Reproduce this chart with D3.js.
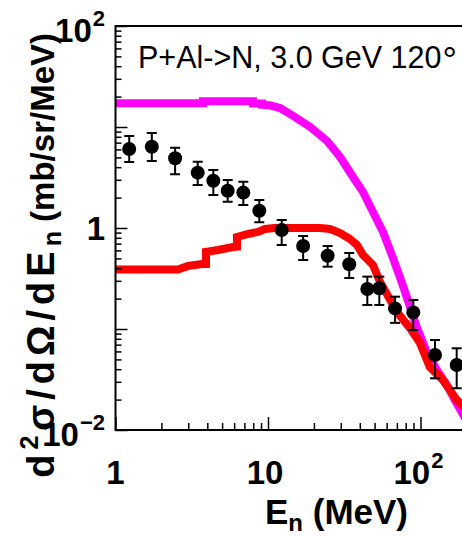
<!DOCTYPE html>
<html><head><meta charset="utf-8">
<script src="https://cdn.jsdelivr.net/npm/d3@7"></script>
<style>
html,body{margin:0;padding:0;background:#fff;}
svg{display:block;font-family:"Liberation Sans",Arial,Helvetica,sans-serif;}
</style>
</head><body><div id="chart"></div>
<script>
// ---- data ----
const magentaX = [1, 3.75, 3.75, 7.97, 7.97, 9.13, 9.13, 10.3, 12.0, 14.6, 18.9, 24.4, 29.7, 36.1, 42.0, 48.8, 56.8, 66.0, 76.8, 94.9, 110, 128, 149, 168, 196];
const magentaY = [17.2, 17.2, 18.0, 18.0, 17.1, 17.1, 16.6, 16.4, 15.4, 12.9, 10.0, 7.27, 5.05, 3.20, 2.27, 1.44, 0.913, 0.505, 0.267, 0.102, 0.0592, 0.0393, 0.0279, 0.0198, 0.0131];

const redX = [1, 2.57, 2.99, 3.69, 3.92, 3.92, 4.70, 5.90, 6.26, 6.26, 7.39, 8.60, 9.55, 11.1, 21.9, 25.5, 29.7, 34.5, 38.3, 42.0, 48.8, 54.3, 70.2, 85.3, 99.2, 115, 140, 173, 211];
const redY = [0.388, 0.388, 0.421, 0.440, 0.440, 0.579, 0.606, 0.649, 0.655, 0.815, 0.873, 0.913, 0.977, 1.0, 1.0, 0.977, 0.892, 0.778, 0.679, 0.540, 0.430, 0.292, 0.147, 0.102, 0.0727, 0.0421, 0.0313, 0.0198, 0.0151];

const dataX  = [1.23, 1.73, 2.46, 3.46, 4.38, 5.44, 6.89, 8.77, 12.3, 17.0, 24.6, 34.1, 44.8, 53.7, 68.1, 89.7, 124.5, 172.7];
const dataY  = [6.06, 6.38, 4.90, 3.53, 2.94, 2.34, 2.24, 1.48, 0.955, 0.664, 0.532, 0.437, 0.249, 0.253, 0.160, 0.146, 0.0553, 0.0440];
const dataHi = [8.15, 8.72, 6.24, 4.53, 3.75, 2.99, 2.87, 1.89, 1.20, 0.833, 0.664, 0.566, 0.330, 0.330, 0.209, 0.194, 0.0778, 0.0644];
const dataLo = [4.50, 4.61, 3.40, 2.67, 2.12, 1.82, 1.69, 1.14, 0.679, 0.482, 0.414, 0.320, 0.173, 0.173, 0.115, 0.0977, 0.0325, 0.0259];

const xMajor = [1, 10, 100];
const xMinor = [2,3,4,5,6,7,8,9,20,30,40,50,60,70,80,90,200];
const yMajor = [0.01, 0.1, 1, 10, 100];
const yMinor = [0.02,0.03,0.04,0.05,0.06,0.07,0.08,0.09,0.2,0.3,0.4,0.5,0.6,0.7,0.8,0.9,2,3,4,5,6,7,8,9,20,30,40,50,60,70,80,90];
const xLabelValues = [1, 10, 100];
const xLabelBase = ["1", "10", "10"];
const xLabelExp  = ["", "", "2"];
const yLabelValues = [100, 1, 0.01];
const yLabelBase = ["10", "1", "10"];
const yLabelExp  = ["2", "", "\u22122"];
const annotationMain = "P+Al->N, 3.0 GeV 120";
const annotationDeg = "\u00B0";

// ---- layout ----
const W = 462, H = 536;
const svg = d3.select("#chart").append("svg").attr("width", W).attr("height", H);
const x = d3.scaleLog().domain([1, 250]).range([115.5, 115.5 + 152.5 * Math.log10(250)]);
const y = d3.scaleLog().domain([0.01, 100]).range([430, 26]);
const x0 = x.range()[0], x1 = x.range()[1], yT = y.range()[1], yB = y.range()[0];

svg.append("defs").append("clipPath").attr("id", "clip")
  .append("rect").attr("x", x0).attr("y", yT).attr("width", x1 - x0).attr("height", yB - yT);

const plot = svg.append("g").attr("clip-path", "url(#clip)");
const line = d3.line().x(d => x(d[0])).y(d => y(d[1]));

plot.append("path").datum(magentaX.map((v, i) => [v, magentaY[i]]))
  .attr("d", line).attr("fill", "none").attr("stroke", "#ff00ff")
  .attr("stroke-width", 8).attr("stroke-linejoin", "miter");
plot.append("path").datum(redX.map((v, i) => [v, redY[i]]))
  .attr("d", line).attr("fill", "none").attr("stroke", "#ff0000")
  .attr("stroke-width", 8).attr("stroke-linejoin", "miter");

const pts = dataX.map((v, i) => ({x: v, y: dataY[i], lo: dataLo[i], hi: dataHi[i]}));
const eb = plot.append("g").attr("stroke", "#000").attr("stroke-width", 2);
eb.selectAll("line.v").data(pts).join("line").attr("class", "v")
  .attr("x1", d => x(d.x)).attr("x2", d => x(d.x)).attr("y1", d => y(d.lo)).attr("y2", d => y(d.hi));
eb.selectAll("line.t").data(pts).join("line").attr("class", "t")
  .attr("x1", d => x(d.x) - 5).attr("x2", d => x(d.x) + 5).attr("y1", d => y(d.hi)).attr("y2", d => y(d.hi));
eb.selectAll("line.b").data(pts).join("line").attr("class", "b")
  .attr("x1", d => x(d.x) - 5).attr("x2", d => x(d.x) + 5).attr("y1", d => y(d.lo)).attr("y2", d => y(d.lo));
plot.append("g").selectAll("circle").data(pts).join("circle")
  .attr("cx", d => x(d.x)).attr("cy", d => y(d.y)).attr("r", 7).attr("fill", "#000");

// ---- axes ----
function styleAxis(g) {
  g.select(".domain").remove();
  g.selectAll(".tick line").attr("stroke", "#000").attr("stroke-width", 1.5);
  g.selectAll(".tick text").remove();
}
svg.append("g").attr("transform", `translate(${x0},0)`)
  .call(d3.axisLeft(y).tickValues(yMajor).tickSize(-12).tickFormat(() => "")).call(styleAxis);
svg.append("g").attr("transform", `translate(${x0},0)`)
  .call(d3.axisLeft(y).tickValues(yMinor).tickSize(-6).tickFormat(() => "")).call(styleAxis);
svg.append("g").attr("transform", `translate(0,${yB})`)
  .call(d3.axisBottom(x).tickValues(xMajor).tickSize(-13).tickFormat(() => "")).call(styleAxis);
svg.append("g").attr("transform", `translate(0,${yB})`)
  .call(d3.axisBottom(x).tickValues(xMinor).tickSize(-7).tickFormat(() => "")).call(styleAxis);

svg.append("rect").attr("x", x0).attr("y", yT).attr("width", x1 - x0).attr("height", yB - yT)
  .attr("fill", "none").attr("stroke", "#000").attr("stroke-width", 2);

// ---- tick labels ----
function label(g, base, exp, px, py, anchor) {
  const t = g.append("text").attr("x", px).attr("y", py).attr("text-anchor", anchor)
    .attr("font-size", 33).attr("font-weight", "bold").attr("fill", "#000");
  t.append("tspan").text(base);
  if (exp) t.append("tspan").attr("font-size", 22).attr("dx", 1).attr("dy", -16).text(exp);
  return t;
}
const lab = svg.append("g");
yLabelValues.forEach((v, i) => {
  const off = yLabelExp[i] ? 16 : 12;
  label(lab, yLabelBase[i], yLabelExp[i], 105, y(v) + off, "end");
});
xLabelValues.forEach((v, i) => {
  label(lab, xLabelBase[i], xLabelExp[i], x(v) - (i === 1 ? 3 : (i === 2 ? 2 : 0)), 484, "middle");
});

// ---- titles ----
const xt = svg.append("text").attr("x", 408).attr("y", 524).attr("text-anchor", "end")
  .attr("font-size", 35).attr("font-weight", "bold").attr("fill", "#000");
xt.append("tspan").text("E");
xt.append("tspan").attr("font-size", 24).attr("dy", 7).text("n");
xt.append("tspan").attr("dy", -7).text(" (MeV)");

const yt = svg.append("text").attr("transform", "translate(54,33) rotate(-90)").attr("text-anchor", "end")
  .attr("font-size", 33).attr("font-weight", "bold").attr("fill", "#000");
yt.append("tspan").attr("font-size", 38).attr("letter-spacing", 5).text("d");
yt.append("tspan").attr("font-size", 25).attr("dy", -16).attr("letter-spacing", 5).text("2");
yt.append("tspan").attr("font-size", 38).attr("dy", 16).attr("letter-spacing", 5).text("\u03C3/d\u03A9/dE");
yt.append("tspan").attr("font-size", 25).attr("dy", 7).text("n");
yt.append("tspan").attr("dy", -7).text(" (mb/sr/MeV)");

const ann = svg.append("text").attr("x", 138).attr("y", 68).attr("font-size", 30.5).attr("fill", "#000");
ann.append("tspan").text(annotationMain);
ann.append("tspan").attr("font-size", 36).attr("dx", 1).attr("dy", 5).text(annotationDeg);
</script>
</body></html>
